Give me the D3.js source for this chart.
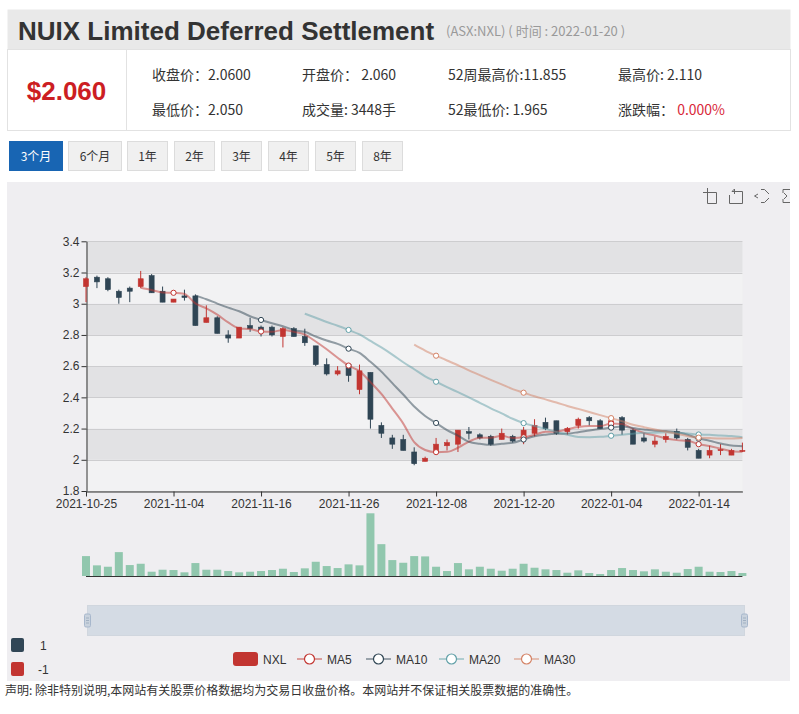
<!DOCTYPE html>
<html><head><meta charset="utf-8">
<script src="https://cdn.jsdelivr.net/npm/d3@7"></script>
<style>body{margin:0;background:#fff;} svg{display:block;}</style>
</head><body><svg id="c" width="799" height="714"></svg>
<script>
const dates = ["2021-10-25","2021-10-26","2021-10-27","2021-10-28","2021-10-29","2021-11-01","2021-11-02","2021-11-03","2021-11-04","2021-11-05",
"2021-11-08","2021-11-09","2021-11-10","2021-11-11","2021-11-12","2021-11-15","2021-11-16","2021-11-17","2021-11-18","2021-11-19",
"2021-11-22","2021-11-23","2021-11-24","2021-11-25","2021-11-26","2021-11-29","2021-11-30","2021-12-01","2021-12-02","2021-12-03",
"2021-12-06","2021-12-07","2021-12-08","2021-12-09","2021-12-10","2021-12-13","2021-12-14","2021-12-15","2021-12-16","2021-12-17",
"2021-12-20","2021-12-21","2021-12-22","2021-12-23","2021-12-24","2021-12-29","2021-12-30","2021-12-31","2022-01-04","2022-01-05",
"2022-01-06","2022-01-07","2022-01-10","2022-01-11","2022-01-12","2022-01-13","2022-01-14","2022-01-17","2022-01-18","2022-01-19","2022-01-20"];
const opens = [3.11,3.17,3.16,3.08,3.10,3.11,3.18,3.08,3.01,3.05,
3.05,2.88,2.91,2.80,2.78,2.86,2.85,2.85,2.79,2.84,
2.79,2.73,2.61,2.55,2.61,2.45,2.56,2.22,2.14,2.13,
2.05,1.99,2.05,2.09,2.10,2.18,2.16,2.15,2.13,2.15,
2.14,2.17,2.24,2.25,2.18,2.22,2.27,2.25,2.21,2.27,
2.19,2.14,2.10,2.13,2.18,2.13,2.06,2.03,2.06,2.03,2.06];
const closes = [3.16,3.14,3.09,3.04,3.08,3.16,3.07,3.01,3.03,3.04,
2.86,2.91,2.81,2.78,2.85,2.84,2.83,2.80,2.84,2.79,
2.75,2.61,2.55,2.57,2.54,2.57,2.26,2.17,2.10,2.06,
1.975,2.01,2.10,2.11,2.19,2.17,2.14,2.10,2.17,2.12,
2.19,2.22,2.20,2.17,2.20,2.26,2.25,2.20,2.25,2.19,
2.10,2.12,2.12,2.15,2.14,2.08,2.01,2.06,2.065,2.06,2.06];
const lows = [3.01,3.10,3.08,3.00,3.01,3.10,3.07,3.01,3.01,3.02,
2.86,2.88,2.81,2.75,2.78,2.82,2.79,2.79,2.72,2.79,
2.73,2.60,2.54,2.54,2.50,2.42,2.20,2.14,2.07,2.06,
1.965,1.99,2.04,2.06,2.05,2.13,2.13,2.09,2.13,2.11,
2.10,2.15,2.19,2.16,2.16,2.20,2.22,2.20,2.20,2.16,
2.10,2.11,2.08,2.11,2.13,2.06,2.01,2.01,2.03,2.03,2.05];
const highs = [3.17,3.18,3.17,3.09,3.11,3.21,3.19,3.11,3.03,3.09,
3.06,2.99,2.92,2.83,2.85,2.91,2.86,2.86,2.85,2.85,
2.84,2.73,2.65,2.60,2.62,2.61,2.56,2.24,2.16,2.16,
2.08,2.02,2.14,2.13,2.19,2.21,2.17,2.16,2.20,2.16,
2.21,2.26,2.27,2.25,2.21,2.27,2.28,2.26,2.27,2.28,
2.20,2.17,2.15,2.17,2.20,2.14,2.07,2.09,2.10,2.07,2.11];
const volumes = [23000,12300,10700,27600,12650,14150,4950,7250,6900,4250,
14950,7250,7250,5750,4250,4950,5750,6900,8400,4600,
8850,16450,11500,9200,13450,12300,72450,36800,18400,15300,
23000,22650,10700,5750,14950,7700,10700,8400,6100,8400,
14150,9550,7700,6900,3800,6550,3450,2300,6900,9200,
6900,5400,7700,4950,3800,8050,10700,4950,4600,5750,3448];
const N = null;
const ma5 = [N,N,N,N,N,3.102,3.088,3.072,3.070,3.062,
3.002,2.970,2.930,2.880,2.842,2.838,2.822,2.820,2.832,2.820,
2.802,2.758,2.708,2.654,2.604,2.568,2.498,2.422,2.328,2.232,
2.113,2.063,2.049,2.051,2.077,2.116,2.142,2.142,2.154,2.140,
2.144,2.160,2.180,2.180,2.196,2.210,2.216,2.216,2.232,2.230,
2.198,2.172,2.156,2.136,2.126,2.122,2.100,2.088,2.071,2.055,2.051];
const ma10 = [N,N,N,N,N,N,N,N,N,N,
3.052,3.029,3.001,2.975,2.952,2.920,2.896,2.875,2.856,2.831,
2.820,2.790,2.764,2.743,2.712,2.685,2.628,2.565,2.491,2.418,
2.341,2.281,2.236,2.190,2.155,2.115,2.103,2.096,2.103,2.109,
2.130,2.151,2.161,2.167,2.168,2.177,2.188,2.198,2.206,2.213,
2.204,2.194,2.186,2.184,2.178,2.160,2.136,2.122,2.104,2.091,2.087];
const ma20 = [N,N,N,N,N,N,N,N,N,N,N,N,N,N,N,N,N,N,N,N,
2.936,2.910,2.883,2.859,2.832,2.803,2.762,2.720,2.674,2.625,
2.580,2.535,2.500,2.466,2.433,2.400,2.365,2.330,2.297,2.263,
2.235,2.216,2.198,2.178,2.161,2.146,2.145,2.147,2.154,2.161,
2.167,2.173,2.174,2.176,2.173,2.169,2.162,2.160,2.155,2.152,2.145];
const ma30 = [N,N,N,N,N,N,N,N,N,N,N,N,N,N,N,N,N,N,N,N,N,N,N,N,N,N,N,N,N,N,
2.738,2.700,2.667,2.636,2.606,2.573,2.542,2.512,2.483,2.453,
2.430,2.407,2.387,2.367,2.345,2.326,2.306,2.286,2.267,2.247,
2.225,2.209,2.194,2.180,2.167,2.151,2.142,2.139,2.137,2.137,2.140];
const xTickLabels = ["2021-10-25","2021-11-04","2021-11-16","2021-11-26","2021-12-08","2021-12-20","2022-01-04","2022-01-14"];
const yTicks = [1.8,2,2.2,2.4,2.6,2.8,3,3.2,3.4];
const seriesNames = ["MA5","MA10","MA20","MA30"];
const seriesColors = ["#c23531","#2f4554","#61a0a8","#d48265"];
const periodButtons = ["3个月","6个月","1年","2年","3年","4年","5年","8年"];

const svg = d3.select("#c");
const F = "'Liberation Sans', Arial, sans-serif";
const CJK = "'Noto Sans CJK SC', 'Liberation Sans', sans-serif";
const UP = "#c23531", DOWN = "#2f4554";

// ---------- header ----------
svg.append("rect").attr("x",7.5).attr("y",9.5).attr("width",783).attr("height",40).attr("fill","#e9e9e9");
svg.append("text").attr("x",18).attr("y",39.5).attr("font-family",F).attr("font-weight","bold").attr("font-size",26).attr("fill","#333").text("NUIX Limited Deferred Settlement");
svg.append("text").attr("x",446).attr("y",36).attr("font-family",CJK).attr("font-size",13).attr("fill","#999").text("(ASX:NXL) ( 时间 : 2022-01-20 )");
svg.append("rect").attr("x",7.5).attr("y",49.5).attr("width",783).attr("height",81).attr("fill","#fff").attr("stroke","#e2e2e2");
svg.append("line").attr("x1",126.5).attr("x2",126.5).attr("y1",50).attr("y2",130).attr("stroke","#e2e2e2");
svg.append("text").attr("x",66.5).attr("y",100).attr("text-anchor","middle").attr("font-family",F).attr("font-weight","bold").attr("font-size",26).attr("fill","#cc1e23").text("$2.060");
const info = [
  [152,80,"收盘价：2.0600"],[302,80,"开盘价： 2.060"],[448,80,"52周最高价:11.855"],[618,80,"最高价: 2.110"],
  [152,115,"最低价：2.050"],[302,115,"成交量: 3448手"],[448,115,"52最低价: 1.965"]
];
info.forEach(d=>svg.append("text").attr("x",d[0]).attr("y",d[1]).attr("font-family",CJK).attr("font-size",14).attr("fill","#333").text(d[2]));
const zd = svg.append("text").attr("x",618).attr("y",115).attr("font-family",CJK).attr("font-size",14).attr("fill","#333");
zd.append("tspan").text("涨跌幅： ");
zd.append("tspan").attr("fill","#d9283a").text("0.000%");

// ---------- buttons ----------
const btnX = [9,68,127,174,221,268,315,362], btnW = [53,53,40,40,40,40,40,40];
periodButtons.forEach((b,i)=>{
  const g = svg.append("g");
  g.append("rect").attr("x",btnX[i]+0.5).attr("y",141.5).attr("width",btnW[i]).attr("height",29)
    .attr("fill", i===0 ? "#1865b3" : "#f0f0f0").attr("stroke", i===0 ? "#1865b3" : "#dcdcdc");
  g.append("text").attr("x",btnX[i]+btnW[i]/2+0.5).attr("y",160.5).attr("text-anchor","middle")
    .attr("font-family",CJK).attr("font-size",12).attr("fill", i===0 ? "#fff" : "#333").text(b);
});

// ---------- chart panel ----------
svg.append("rect").attr("x",7).attr("y",182).attr("width",783).attr("height",499).attr("fill","#efeef1");

const x = d3.scalePoint().domain(dates).range([86, 742.4]);
const y = d3.scaleLinear().domain([1.8,3.4]).range([491, 241.3]);
const yv = d3.scaleLinear().domain([0, d3.max(volumes)]).range([576, 513.3]);

// split areas
for (let k=0;k<yTicks.length-1;k++){
  svg.append("rect").attr("x",86).attr("width",742.4-86)
    .attr("y",y(yTicks[k+1])).attr("height",y(yTicks[k])-y(yTicks[k+1]))
    .attr("fill", k%2===0 ? "#f2f2f3" : "#e2e2e4");
}
yTicks.forEach(t=>svg.append("line").attr("x1",86).attr("x2",742.4).attr("y1",Math.round(y(t))+0.5).attr("y2",Math.round(y(t))+0.5).attr("stroke","#cdcdcf"));

// axes
const gy = svg.append("g").attr("transform","translate(86.5,0)")
  .call(d3.axisLeft(y).tickValues(yTicks).tickSize(5).tickSizeOuter(0).tickPadding(2).tickFormat(d=>String(+d.toFixed(1))));
const gx = svg.append("g").attr("transform","translate(0,491.5)")
  .call(d3.axisBottom(x).tickValues(xTickLabels).tickSize(5).tickSizeOuter(0).tickPadding(3));
[gx,gy].forEach(g=>{
  g.selectAll("path,line").attr("stroke","#333");
  g.selectAll("text").attr("fill","#333").attr("font-size",12).attr("font-family",F);
});

// candles
const cg = svg.append("g");
dates.forEach((d,i)=>{
  const o=opens[i], c=closes[i];
  const col = c>=o ? UP : DOWN;
  const cx = x(d);
  cg.append("line").attr("x1",cx).attr("x2",cx).attr("y1",y(highs[i])).attr("y2",y(lows[i])).attr("stroke",col).attr("stroke-width",1);
  const top = y(Math.max(o,c)), h = Math.max(1, Math.abs(y(o)-y(c)));
  cg.append("rect").attr("x",cx-2.5).attr("y",top).attr("width",5).attr("height",h).attr("fill",col).attr("stroke",col).attr("stroke-width",0.6);
});

// MA lines
const maData = [ma5, ma10, ma20, ma30];
maData.forEach((arr,s)=>{
  const line = d3.line().defined(v=>v!=null).x((v,i)=>x(dates[i])).y(v=>y(v)).curve(d3.curveMonotoneX);
  svg.append("path").attr("d",line(arr)).attr("fill","none").attr("stroke",seriesColors[s]).attr("stroke-width",2).attr("stroke-opacity",0.5);
});
maData.forEach((arr,s)=>{
  arr.forEach((v,i)=>{
    if (v!=null && i%8===0){
      svg.append("circle").attr("cx",x(dates[i])).attr("cy",y(v)).attr("r",2.6).attr("fill","#fff").attr("stroke",seriesColors[s]).attr("stroke-width",1);
    }
  });
});

// volume
svg.append("g").selectAll("rect").data(volumes).join("rect")
  .attr("x",(v,i)=>x(dates[i])-4).attr("width",8)
  .attr("y",v=>yv(v)).attr("height",v=>576-yv(v)).attr("fill","#91c7ae");
svg.append("line").attr("x1",86).attr("x2",742.4).attr("y1",576.5).attr("y2",576.5).attr("stroke","#333");

// data zoom slider
svg.append("rect").attr("x",87.5).attr("y",605.5).attr("width",657).attr("height",30).attr("fill","#d4dbe4").attr("stroke","#d0d6de");
[87.5,744.5].forEach(hx=>{
  svg.append("rect").attr("x",hx-3).attr("y",614).attr("width",6).attr("height",13).attr("rx",1.5).attr("fill","#c9d2dd").attr("stroke","#a7b7cc");
  [618,620.5,623].forEach(ly=>svg.append("line").attr("x1",hx-1.5).attr("x2",hx+1.5).attr("y1",ly).attr("y2",ly).attr("stroke","#97a7bb").attr("stroke-width",0.8));
});

// toolbox icons
const tb = svg.append("g").attr("fill","none").attr("stroke","#666").attr("stroke-width",1);
tb.append("path").attr("d","M703,192.5 H716.5 V203.5 H707.5 V188");
tb.append("path").attr("d","M732,191.5 L734.5,189 L734.5,194 M732,191.5 H742.5 V203.5 H729.5 V195");
tb.append("path").attr("d","M761,189.5 L764.5,189.5 L769,194 M769,198 L764.5,202.5 L761,202.5 M758,198 L754.5,196 L758,194");
tb.append("path").attr("d","M783,189.5 H790 M783,202.5 H790 M783,189.5 V193 M783,199 V202.5 M784,193 L787,196 L784,199");

// visual map pieces
svg.append("rect").attr("x",11).attr("y",638).attr("width",13).attr("height",14).attr("rx",2).attr("fill","#314656");
svg.append("text").attr("x",40).attr("y",649.5).attr("font-family",F).attr("font-size",12).attr("fill","#333").text("1");
svg.append("rect").attr("x",11).attr("y",662).attr("width",13).attr("height",14).attr("rx",2).attr("fill",UP);
svg.append("text").attr("x",38).attr("y",673.5).attr("font-family",F).attr("font-size",12).attr("fill","#333").text("-1");

// legend
svg.append("rect").attr("x",233).attr("y",652).attr("width",25).attr("height",14).attr("rx",3).attr("fill",UP);
svg.append("text").attr("x",263).attr("y",663.5).attr("font-family",F).attr("font-size",12).attr("fill","#333").text("NXL");
const legX = [297,366,439,514];
seriesNames.forEach((n,s)=>{
  const lx = legX[s];
  svg.append("line").attr("x1",lx).attr("x2",lx+25).attr("y1",659).attr("y2",659).attr("stroke",seriesColors[s]).attr("stroke-width",1.5).attr("stroke-opacity",0.6);
  svg.append("circle").attr("cx",lx+12.5).attr("cy",659).attr("r",5).attr("fill","#fff").attr("stroke",seriesColors[s]).attr("stroke-width",1.2);
  svg.append("text").attr("x",lx+30).attr("y",663.5).attr("font-family",F).attr("font-size",12).attr("fill","#333").text(n);
});

// footer
svg.append("text").attr("x",5).attr("y",695).attr("font-family",CJK).attr("font-size",12).attr("fill","#333")
  .text("声明: 除非特别说明,本网站有关股票价格数据均为交易日收盘价格。本网站并不保证相关股票数据的准确性。");
</script>
</body></html>
